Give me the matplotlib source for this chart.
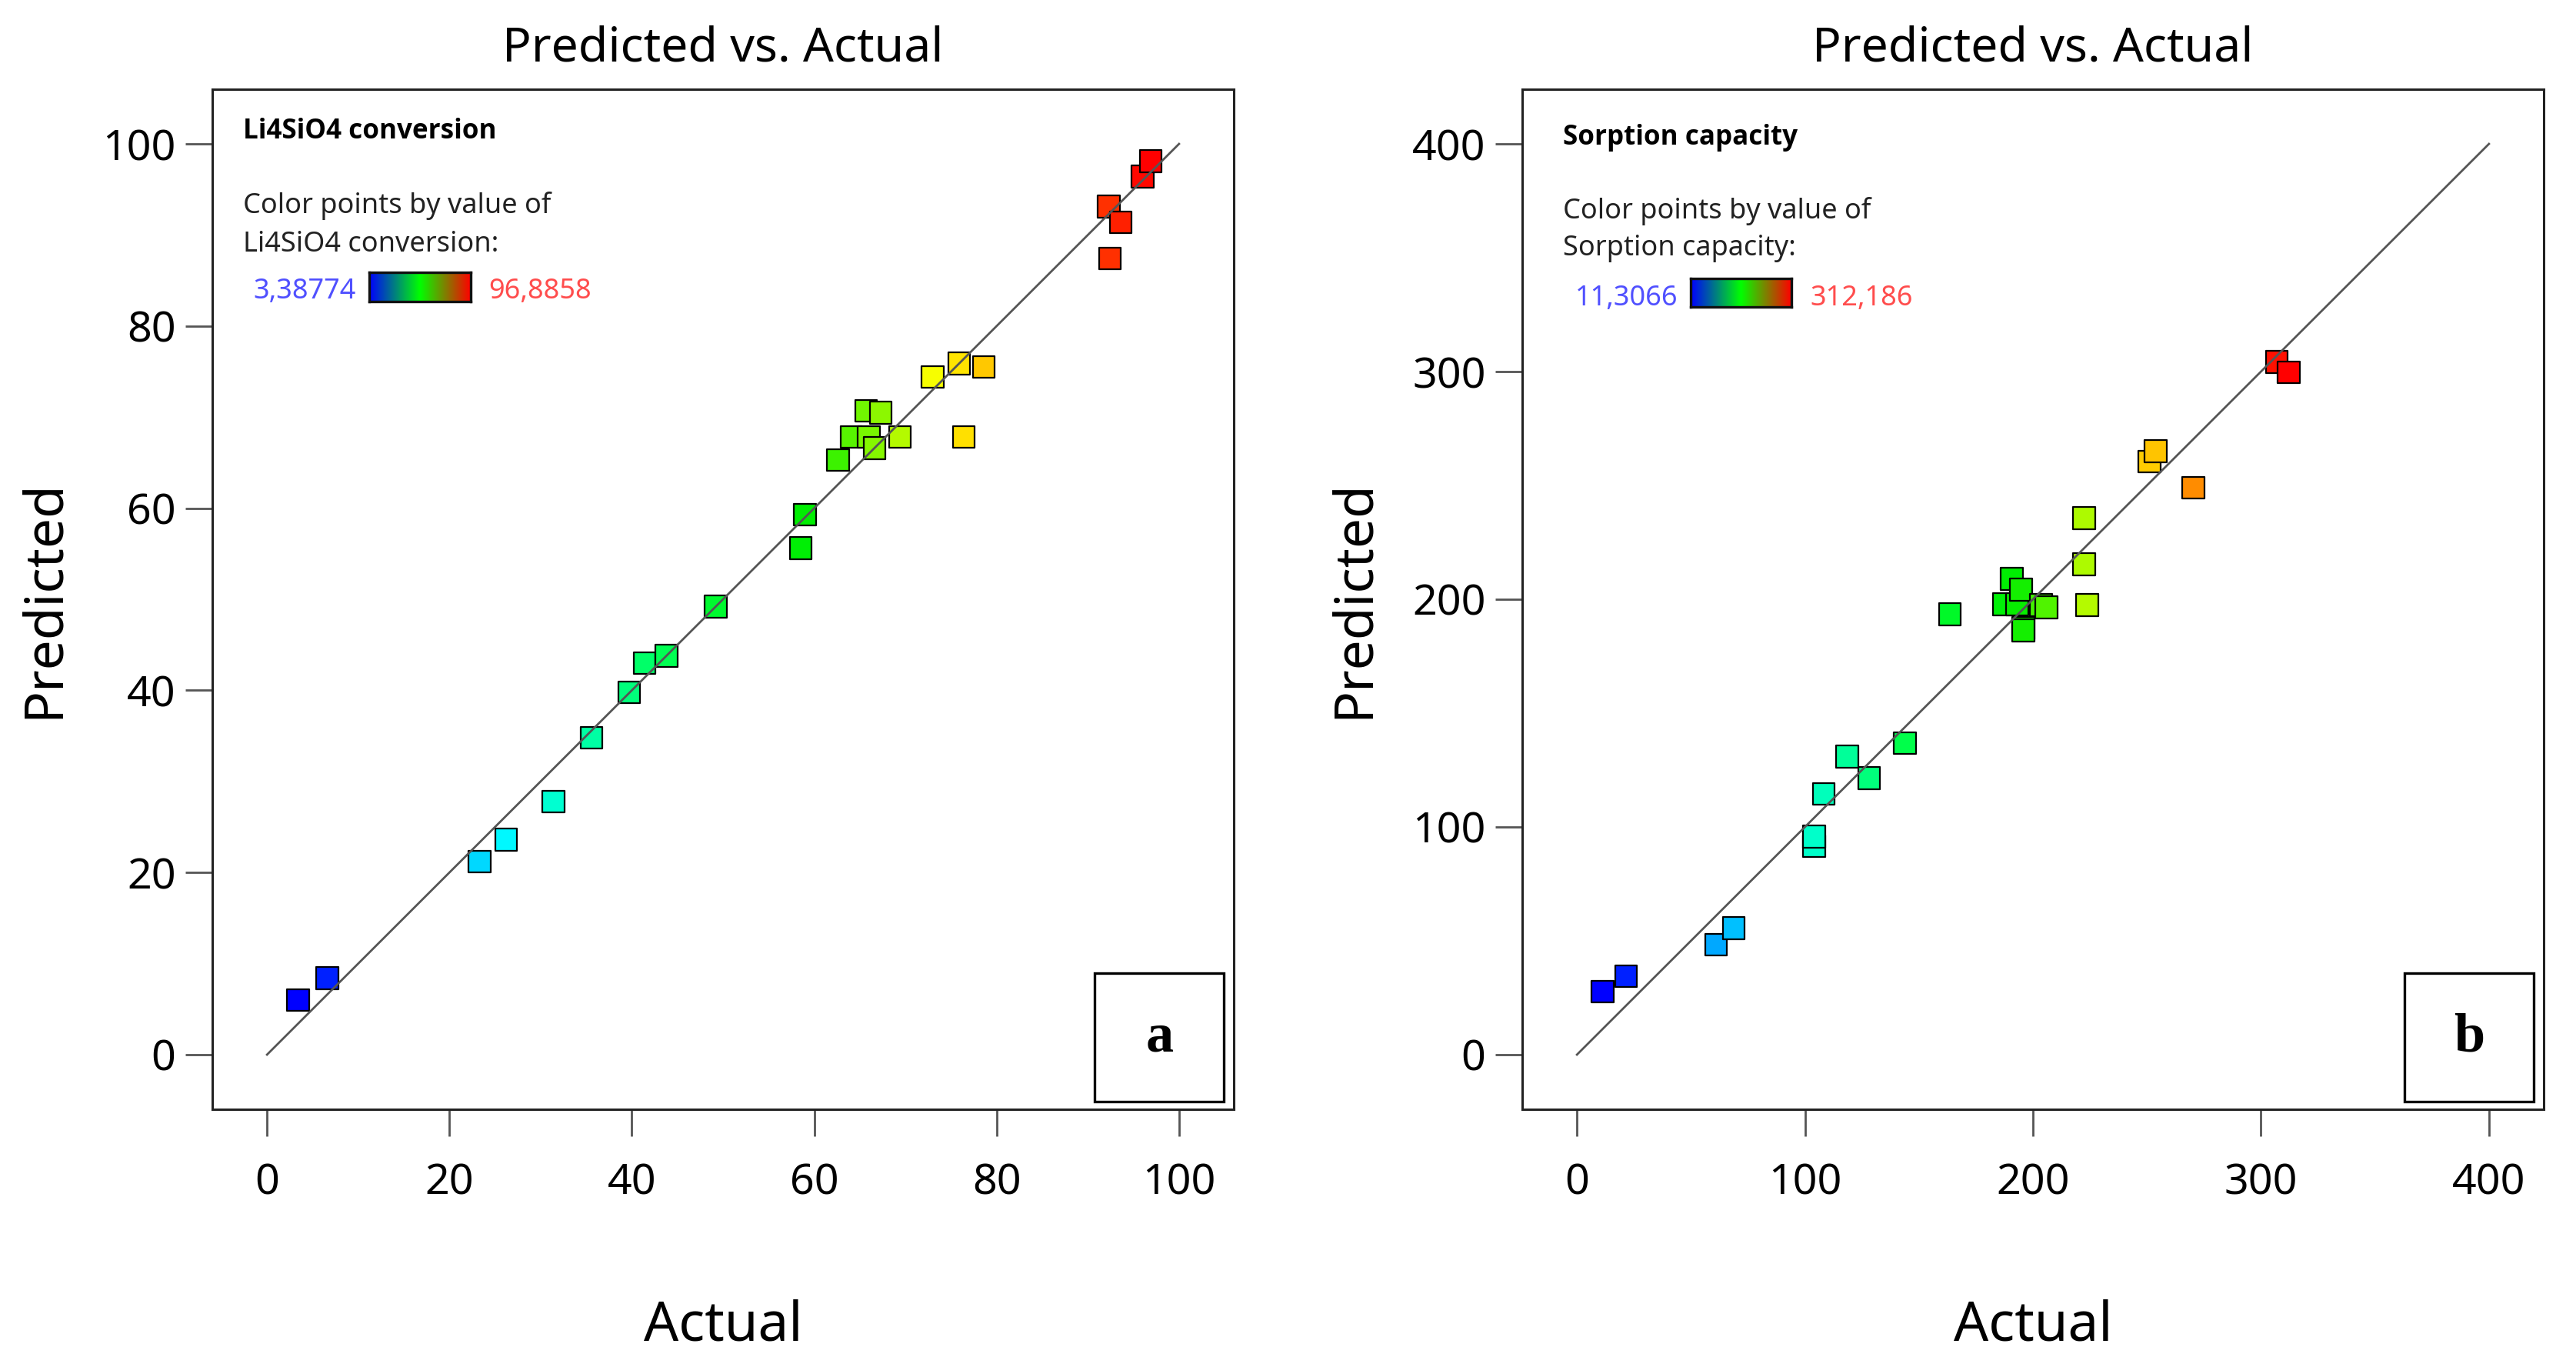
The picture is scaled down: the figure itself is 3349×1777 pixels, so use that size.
import numpy as np
import matplotlib.pyplot as plt
from matplotlib.colors import LinearSegmentedColormap
from matplotlib.patches import Rectangle

plt.rcParams['font.family'] = ['Noto Sans', 'DejaVu Sans']

# --- data ---
actual_a = [3.39, 6.6, 23.3, 26.2, 31.4, 35.6, 39.7, 41.4, 43.8, 49.2, 58.5, 59.0, 62.6,
            64.1, 65.7, 66.0, 66.6, 67.3, 69.4, 73.0, 75.9, 76.4, 78.6, 92.3, 92.4, 93.6,
            96.0, 96.89]
pred_a = [6.0, 8.4, 21.2, 23.6, 27.8, 34.8, 39.8, 43.0, 43.8, 49.2, 55.6, 59.3, 65.3,
          67.8, 70.7, 67.8, 66.6, 70.5, 67.8, 74.4, 75.9, 67.8, 75.5, 93.1, 87.4, 91.4,
          96.4, 98.1]

actual_b = [11.3, 21.6, 61.1, 68.8, 104.1, 104.1, 108.2, 118.6, 128.1, 143.9, 163.5,
            187.4, 190.8, 193.1, 194.8, 195.8, 195.8, 203.6, 205.9, 222.4, 222.4, 223.8,
            251.1, 253.8, 270.3, 307.0, 312.2]
pred_b = [27.7, 34.5, 48.3, 55.5, 91.6, 95.7, 114.6, 130.9, 121.4, 136.9, 193.4,
          197.8, 209.0, 197.8, 204.2, 187.3, 186.3, 197.5, 196.5, 235.7, 215.4, 197.5,
          260.4, 265.1, 248.9, 304.3, 299.6]

range_a = (3.38774, 96.8858)
range_b = (11.3066, 312.186)
ticks_a = [0, 20, 40, 60, 80, 100]
ticks_b = [0, 100, 200, 300, 400]
names = ['Li4SiO4 conversion', 'Sorption capacity']
letters = ['a', 'b']

# colour scales (points go blue-cyan-green-yellow-red, legend bar blue-green-red)
point_cmap = LinearSegmentedColormap.from_list(
    'pts', [(0, '#0000ff'), (0.25, '#00ffff'), (0.45, '#00ff40'),
            (0.6, '#00ee00'), (0.75, '#ffff00'), (1, '#ff0000')])
bar_cmap = LinearSegmentedColormap.from_list('bar', ['#0000ff', '#00ff00', '#ff0000'])

W, H = 3349, 1777
AX_W, AX_H = 1328, 1326
fig = plt.figure(figsize=(W / 200, H / 200), dpi=200)


def fx(dx):
    return dx / AX_W


def fy(dy):
    return 1 - dy / AX_H


def panel(left_px, actual, pred, vrange, ticks, name, letter, leg):
    ax = fig.add_axes([left_px / W, (H - 1442) / H, AX_W / W, AX_H / H])
    top = ticks[-1]
    pad = 0.06 * top
    ax.set_xlim(-pad, top + pad)
    ax.set_ylim(-pad, top + pad)

    vmin, vmax = vrange
    ax.scatter(actual, pred, marker='s', s=105, c=actual, cmap=point_cmap,
               vmin=vmin, vmax=vmax, edgecolors='black', linewidths=0.8, zorder=3)
    ax.plot([0, top], [0, top], color='#555555', lw=1.0, zorder=4)

    ax.set_xticks(ticks)
    ax.set_yticks(ticks)
    ax.tick_params(direction='out', length=12.6, width=1.0, color='#555555',
                   labelsize=20)
    ax.tick_params(axis='x', pad=12)
    ax.tick_params(axis='y', pad=4.5)
    for sp in ax.spines.values():
        sp.set_linewidth(1.1)
        sp.set_color('#222222')

    # title + axis labels
    cx = (left_px + AX_W / 2) / W
    fig.text(cx, 1 - 64 / H, 'Predicted vs. Actual', ha='center', va='center',
             fontsize=22.5)
    fig.text(cx, 1 - 1724 / H, 'Actual', ha='center', va='center', fontsize=25.5)
    fig.text((left_px - 218) / W, 1 - 779 / H, 'Predicted', ha='center', va='center',
             rotation=90, fontsize=25)

    # in-plot colour legend
    x0, t0, l1, l2, row, bar_top, bar_bot, mn_x, bar_x0, bar_x1, mx_x = leg
    ax.text(fx(x0), fy(t0), name, transform=ax.transAxes, fontsize=12.6,
            fontweight='bold', family=['Open Sans', 'DejaVu Sans'],
            va='baseline', ha='left')
    ax.text(fx(x0), fy(l1), 'Color points by value of', transform=ax.transAxes,
            fontsize=13, va='baseline', ha='left', color='#222222')
    ax.text(fx(x0), fy(l2), name + ':', transform=ax.transAxes,
            fontsize=13, va='baseline', ha='left', color='#222222')
    ax.text(fx(mn_x), fy(row), f'{vmin:g}'.replace('.', ','), transform=ax.transAxes,
            fontsize=13, va='baseline', ha='left', color='#5050ff')
    ax.text(fx(mx_x), fy(row), f'{vmax:g}'.replace('.', ','), transform=ax.transAxes,
            fontsize=13, va='baseline', ha='left', color='#ff4d4d')
    cax = ax.inset_axes([fx(bar_x0), fy(bar_bot), fx(bar_x1 - bar_x0),
                         (bar_bot - bar_top) / AX_H])
    cax.imshow(np.linspace(0, 1, 256)[None, :], aspect='auto', cmap=bar_cmap)
    cax.set_xticks([])
    cax.set_yticks([])
    for sp in cax.spines.values():
        sp.set_linewidth(1.2)
        sp.set_color('#111111')

    # panel letter box
    ax.add_patch(Rectangle((0.864, 0.0075), 0.1265, 0.126, transform=ax.transAxes,
                           facecolor='white', edgecolor='black', lw=1.2, zorder=5))
    ax.text(0.864 + 0.1265 / 2, 0.0075 + 0.126 / 2, letter, transform=ax.transAxes,
            ha='center', va='center', fontsize=26, fontweight='bold',
            family='Liberation Serif', zorder=6)
    return ax


panel(276, actual_a, pred_a, range_a, ticks_a, names[0], letters[0],
      (40, 64, 161, 211, 272, 238, 276, 53, 204, 336, 359))
panel(1979, actual_b, pred_b, range_b, ticks_b, names[1], letters[1],
      (53, 72, 168, 216, 281, 246, 283, 69, 219, 350, 374))

fig.savefig('out.png', dpi=200, facecolor='white')
